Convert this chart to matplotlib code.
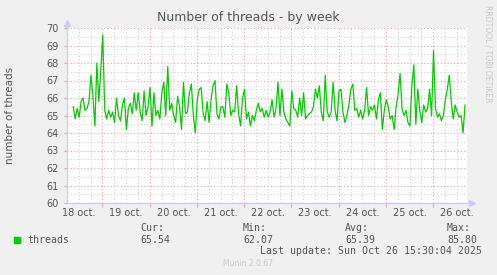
import matplotlib
matplotlib.use('Agg')
import matplotlib.pyplot as plt
from matplotlib.lines import Line2D
from matplotlib.patches import Rectangle
import numpy as np

# hourly samples, starting 18 oct 09:10 (hours counted from 18 oct 00:00)
start_hour = 9 + 10 / 60
threads = [
    65.5, 64.8, 65.4, 64.9, 65.8, 66.0, 65.3, 65.4, 65.8, 67.3, 66.1, 64.4, 68.0,
    65.8, 67.6, 69.6, 65.3, 64.8, 65.3, 64.9, 65.2, 64.6, 66.0, 65.0, 64.7, 65.6,
    66.0, 64.2, 65.4, 65.7, 65.1, 66.3, 65.3, 66.3, 65.2, 64.7, 66.4, 65.0, 65.5,
    66.6, 64.4, 66.3, 65.0, 65.3, 64.8, 66.3, 66.9, 65.0, 67.8, 65.3,
    65.7, 65.0, 64.6, 66.1, 65.5, 64.2, 66.9, 65.1, 65.2, 66.3, 66.8, 65.0, 64.0,
    65.9, 66.5, 66.6, 65.1, 64.7, 65.8, 64.6, 65.9, 66.7, 67.0, 65.1, 64.8,
    65.5, 65.5, 64.9, 66.8, 66.3, 65.0, 65.3, 65.2, 66.7, 65.1, 64.4, 66.0, 66.5,
    64.8, 65.2, 64.4, 65.0, 64.7, 65.3, 65.7, 65.2, 65.4, 64.9, 65.3, 64.9,
    65.2, 65.9, 64.9, 65.4, 66.9, 65.0, 66.5, 65.2, 64.8, 64.6, 64.4, 66.4, 65.4,
    65.3, 64.9, 66.0, 65.0, 66.3, 64.8, 65.0, 65.1, 65.2, 65.5, 66.5, 66.0,
    66.7, 65.2, 64.7, 67.3, 65.2, 64.9, 65.2, 66.9, 65.3, 64.7, 66.4, 66.5, 65.2,
    64.6, 65.0, 65.6, 66.5, 66.8, 65.3, 65.4, 64.9, 65.3, 64.8, 65.3, 66.6,
    65.0, 65.5, 65.3, 65.6, 64.8, 65.9, 66.3, 64.2, 65.3, 65.9, 65.5, 64.8, 65.0,
    64.2, 65.5, 66.2, 67.4, 65.4, 65.0, 65.3, 64.6, 64.4, 66.7, 67.9, 64.5, 66.5,
    65.3, 64.6, 65.6, 65.2, 65.4, 66.5, 65.0, 68.7, 65.4, 64.9, 65.1, 64.7, 65.0,
    65.9, 66.5, 67.3, 65.8, 64.8, 65.6, 65.2, 64.9, 65.0, 64.0, 65.6,
]
day_labels = ['18 oct.', '19 oct.', '20 oct.', '21 oct.', '22 oct.',
              '23 oct.', '24 oct.', '25 oct.', '26 oct.']
legend_heads = ['Cur:', 'Min:', 'Avg:', 'Max:']
legend_values = ['65.54', '62.07', '65.39', '85.80']
last_update = 'Last update: Sun Oct 26 15:30:04 2025'

hours = start_hour + np.arange(len(threads))

W, H = 497, 275
fig = plt.figure(figsize=(W / 100, H / 100), dpi=100, facecolor='#f0f0f0')
ax = fig.add_axes([67 / W, 1 - 203 / H, 400 / W, 175 / H], facecolor='white')

text_col = '#555555'
red_grid = '#eea0a0'
gray_grid = '#cfcfcf'
axis_col = '#ccccff'

ax.set_xlim(start_hour, start_hour + 200)
ax.set_ylim(60, 70)

ax.set_xticks(np.arange(24, 209, 24))
ax.set_xticks([h for h in range(6, 209, 6) if h % 24], minor=True)
ax.set_yticks(np.arange(60, 71, 1))
ax.set_yticks(np.arange(60.5, 70, 1), minor=True)
ax.set_xticklabels([])
ax.set_yticklabels([f'{v}' for v in range(60, 71)])

ax.grid(which='major', color=red_grid, linestyle=(0, (1, 2)), lw=0.8)
ax.grid(which='minor', color=gray_grid, linestyle=(0, (1, 2)), lw=0.8)
ax.set_axisbelow(True)

ax.tick_params(axis='x', which='major', length=3, width=0.8, color=red_grid)
ax.tick_params(axis='y', which='major', length=2, width=0.8, color=red_grid,
               labelsize=7, labelcolor=text_col, pad=4)
ax.tick_params(which='minor', length=0)

for k, lab in enumerate(day_labels):
    ax.text(12 + 24 * k, -0.028, lab, transform=ax.get_xaxis_transform(),
            ha='center', va='top', fontsize=7, color=text_col)

for s in ax.spines.values():
    s.set_visible(False)

# axes with arrows, munin style
ax.add_line(Line2D([0, 0], [0, 1.03], transform=ax.transAxes, color=axis_col,
                   lw=1, clip_on=False))
ax.add_line(Line2D([0, 1.012], [0, 0], transform=ax.transAxes, color=axis_col,
                   lw=1, clip_on=False))
ax.plot([0], [1.03], marker='^', ms=4, color=axis_col, transform=ax.transAxes,
        clip_on=False)
ax.plot([1.012], [0], marker='>', ms=4, color=axis_col, transform=ax.transAxes,
        clip_on=False)

ax.plot(hours, threads, color='#00cc00', lw=0.9, zorder=3)

fig.text(248 / W, 1 - 17 / H, 'Number of threads - by week', ha='center',
         va='center', fontsize=9, color=text_col)
fig.text(10 / W, 1 - 115 / H, 'number of threads', rotation=90, ha='center',
         va='center', fontsize=7.5, color=text_col)
fig.text(488 / W, 1 - 5 / H, 'RRDTOOL / TOBI OETIKER', rotation=270,
         ha='center', va='top', fontsize=5.5, color='#c8c8c8')

mono = 'DejaVu Sans Mono'
fig.patches.append(Rectangle((14 / W, 1 - 243 / H), 6 / W, 6 / H,
                             transform=fig.transFigure, color='#00cc00'))
fig.text(27 / W, 1 - 240 / H, 'threads', family=mono, fontsize=7.1,
         color=text_col, va='center')
for xpix, head, val in zip([140, 243, 345, 447], legend_heads, legend_values):
    fig.text(xpix / W, 1 - 228 / H, head, family=mono, fontsize=7.1,
             color=text_col, va='center')
    fig.text(xpix / W, 1 - 240 / H, val, family=mono, fontsize=7.1,
             color=text_col, va='center')
fig.text(482 / W, 1 - 251 / H, last_update, family=mono, fontsize=7.1,
         color=text_col, va='center', ha='right')
fig.text(248 / W, 1 - 264 / H, 'Munin 2.0.67', fontsize=5.5, color='#c8c8c8',
         ha='center', va='center')

fig.savefig('out.png', dpi=100, facecolor=fig.get_facecolor())
